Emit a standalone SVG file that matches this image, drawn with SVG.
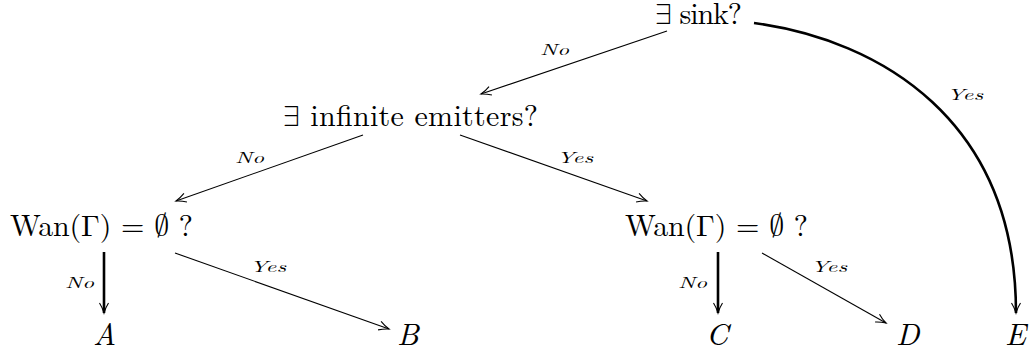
<svg xmlns="http://www.w3.org/2000/svg" width="1034" height="352" viewBox="0 0 1034 352">
<style>
.t{font-size:30px}
.v{font-size:31px;font-style:italic}
.l{font-size:15px;font-style:italic}
.thin{stroke:#000;stroke-width:1.1;fill:none;marker-end:url(#ah)}
.thick{stroke:#000;stroke-width:2.6;fill:none;marker-end:url(#ah)}
</style>
<defs>
<marker id="ah" markerUnits="userSpaceOnUse" viewBox="-12 -6 14 12" refX="0" refY="0" markerWidth="14" markerHeight="12" orient="auto" overflow="visible">
<path d="M-10,-4.5 C-6,-2 -2,-0.6 0,0 C-2,0.6 -6,2 -10,4.5" stroke="#000" stroke-width="1.1" fill="none"/>
</marker>
</defs>
<rect width="1034" height="352" fill="#fff"/>
<g id="connectors" font-family="Latin Modern Roman, Liberation Serif, serif" fill="#000">
<path class="thin" d="M667,31 L481,94"/>
<path class="thin" d="M363,135 L176,201"/>
<path class="thin" d="M460,135 L647,201"/>
<path class="thick" d="M104,252 L104,313"/>
<path class="thin" d="M175,253 L389,329"/>
<path class="thick" d="M718,252 L718,313"/>
<path class="thin" d="M762,253 L886,323"/>
<path class="thick" d="M754,23 C880,40 1016,120 1016,313"/>
<text class="l" x="540" y="55" textLength="29" lengthAdjust="spacingAndGlyphs">No</text>
<text class="l" x="235" y="163" textLength="29" lengthAdjust="spacingAndGlyphs">No</text>
<text class="l" x="557" y="163" textLength="36" lengthAdjust="spacingAndGlyphs">Yes</text>
<text class="l" x="65" y="288" textLength="29" lengthAdjust="spacingAndGlyphs">No</text>
<text class="l" x="250" y="272" textLength="36" lengthAdjust="spacingAndGlyphs">Yes</text>
<text class="l" x="678" y="288" textLength="29" lengthAdjust="spacingAndGlyphs">No</text>
<text class="l" x="811" y="272" textLength="36" lengthAdjust="spacingAndGlyphs">Yes</text>
<text class="l" x="947" y="100" textLength="36" lengthAdjust="spacingAndGlyphs">Yes</text>
</g>
<g font-family="Latin Modern Roman, Liberation Serif, serif" fill="#000">
<g id="n-sink"><text class="t" x="655" y="24" textLength="87"><tspan font-family="Latin Modern Math, Liberation Serif, serif">∃</tspan> sink?</text></g>
<g id="n-inf"><text class="t" x="283" y="126" textLength="255"><tspan font-family="Latin Modern Math, Liberation Serif, serif">∃</tspan> infinite emitters?</text></g>
<g id="n-wan1"><text class="t" x="10" y="236" textLength="183">Wan(Γ) = <tspan font-family="Latin Modern Math, Liberation Serif, serif">∅</tspan> ?</text></g>
<g id="n-wan2"><text class="t" x="625" y="236" textLength="183">Wan(Γ) = <tspan font-family="Latin Modern Math, Liberation Serif, serif">∅</tspan> ?</text></g>
<g id="n-A"><text class="v" x="93" y="345">A</text></g>
<g id="n-B"><text class="v" x="397" y="345">B</text></g>
<g id="n-C"><text class="v" x="706" y="345">C</text></g>
<g id="n-D"><text class="v" x="896" y="345">D</text></g>
<g id="n-E"><text class="v" x="1005" y="345">E</text></g>
</g>
</svg>
